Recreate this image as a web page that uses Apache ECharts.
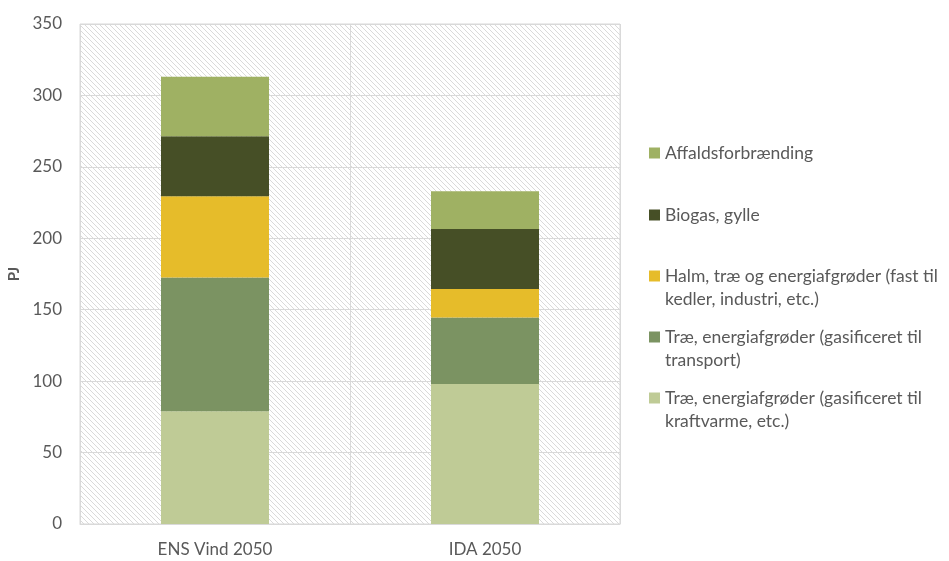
<!DOCTYPE html>
<html>
<head>
<meta charset="utf-8">
<script src="https://cdn.jsdelivr.net/npm/echarts@6/dist/echarts.min.js"></script>
<style>
  html, body {margin: 0; padding: 0; background: #fff;}
  #chart {width: 949px; height: 561px;}
</style>
</head>
<body>
<div id="chart"></div>
<script>
const categories = ['ENS Vind 2050', 'IDA 2050']
const seriesNames = [
    'Træ, energiafgrøder (gasificeret til kraftvarme, etc.)',
    'Træ, energiafgrøder (gasificeret til transport)',
    'Halm, træ og energiafgrøder (fast til kedler, industri, etc.)',
    'Biogas, gylle',
    'Affaldsforbrænding'
]
const kraftvarme = [79, 98]
const transport = [93.5, 46.5]
const halm = [57, 20]
const biogas = [42, 42]
const affald = [41.5, 26.5]
const yTicks = [0, 50, 100, 150, 200, 250, 300, 350]

const colors = ['#bfcb96', '#7b9362', '#e6bc2a', '#464f26', '#9fb163']
const legendLines = [
    ['Træ, energiafgrøder (gasificeret til', 'kraftvarme, etc.)'],
    ['Træ, energiafgrøder (gasificeret til', 'transport)'],
    ['Halm, træ og energiafgrøder (fast til', 'kedler, industri, etc.)'],
    ['Biogas, gylle'],
    ['Affaldsforbrænding']
]
const legendIconY = [398, 337, 276, 215, 153]

// diagonal hatch for plot background
const hatch = document.createElement('canvas')
hatch.width = 5
hatch.height = 5
const hctx = hatch.getContext('2d')
hctx.fillStyle = '#ffffff'
hctx.fillRect(0, 0, 5, 5)
hctx.strokeStyle = '#dadada'
hctx.lineWidth = 1
hctx.beginPath()
hctx.moveTo(-1, -1); hctx.lineTo(6, 6)
hctx.moveTo(-1, 4); hctx.lineTo(1, 6)
hctx.moveTo(4, -1); hctx.lineTo(6, 1)
hctx.stroke()

const font = 'Lato, "Open Sans", sans-serif'
const values = [kraftvarme, transport, halm, biogas, affald]
const lineH = 23

const chart = echarts.init(document.getElementById('chart'))

// one legend per item so the first text line sits level with the icon
const legends = seriesNames.map((name, i) => {
    const twoLines = legendLines[i].length > 1
    return {
        data: [name],
        orient: 'vertical',
        left: 649,
        top: twoLines ? legendIconY[i] - lineH * 1.5 : legendIconY[i] - lineH / 2,
        padding: 0,
        itemWidth: 11,
        itemHeight: 11,
        itemGap: 0,
        icon: 'rect',
        formatter: () => twoLines ? '\u00a0\n' + legendLines[i].join('\n') : legendLines[i][0],
        textStyle: {
            fontFamily: font,
            fontSize: 17.5,
            color: '#595959',
            lineHeight: lineH
        }
    }
})

chart.setOption({
    animation: false,
    color: colors,
    grid: {
        left: 80,
        right: 329,
        top: 24,
        bottom: 37,
        outerBoundsMode: 'none',
        show: true,
        backgroundColor: {image: hatch, repeat: 'repeat'},
        borderColor: '#d9d9d9',
        borderWidth: 1
    },
    legend: legends,
    xAxis: {
        type: 'category',
        data: categories,
        axisLine: {show: true, lineStyle: {color: '#d9d9d9', width: 1}},
        axisTick: {show: false},
        splitLine: {show: true, lineStyle: {color: '#d9d9d9', width: 1}},
        axisLabel: {fontFamily: font, fontSize: 17, color: '#595959', margin: 17}
    },
    yAxis: {
        type: 'value',
        min: yTicks[0],
        max: yTicks[yTicks.length - 1],
        interval: 50,
        name: 'PJ',
        nameLocation: 'middle',
        nameGap: 58,
        nameRotate: 90,
        nameTextStyle: {fontFamily: font, fontSize: 15, fontWeight: 'bold', color: '#595959'},
        axisLine: {show: false},
        axisTick: {show: false},
        splitLine: {lineStyle: {color: '#d9d9d9', width: 1}},
        axisLabel: {fontFamily: font, fontSize: 17, color: '#595959', margin: 18}
    },
    series: seriesNames.map((name, i) => ({
        name: name,
        type: 'bar',
        stack: 'total',
        barWidth: '40%',
        data: values[i],
        itemStyle: {color: colors[i]}
    }))
})
</script>
</body>
</html>
